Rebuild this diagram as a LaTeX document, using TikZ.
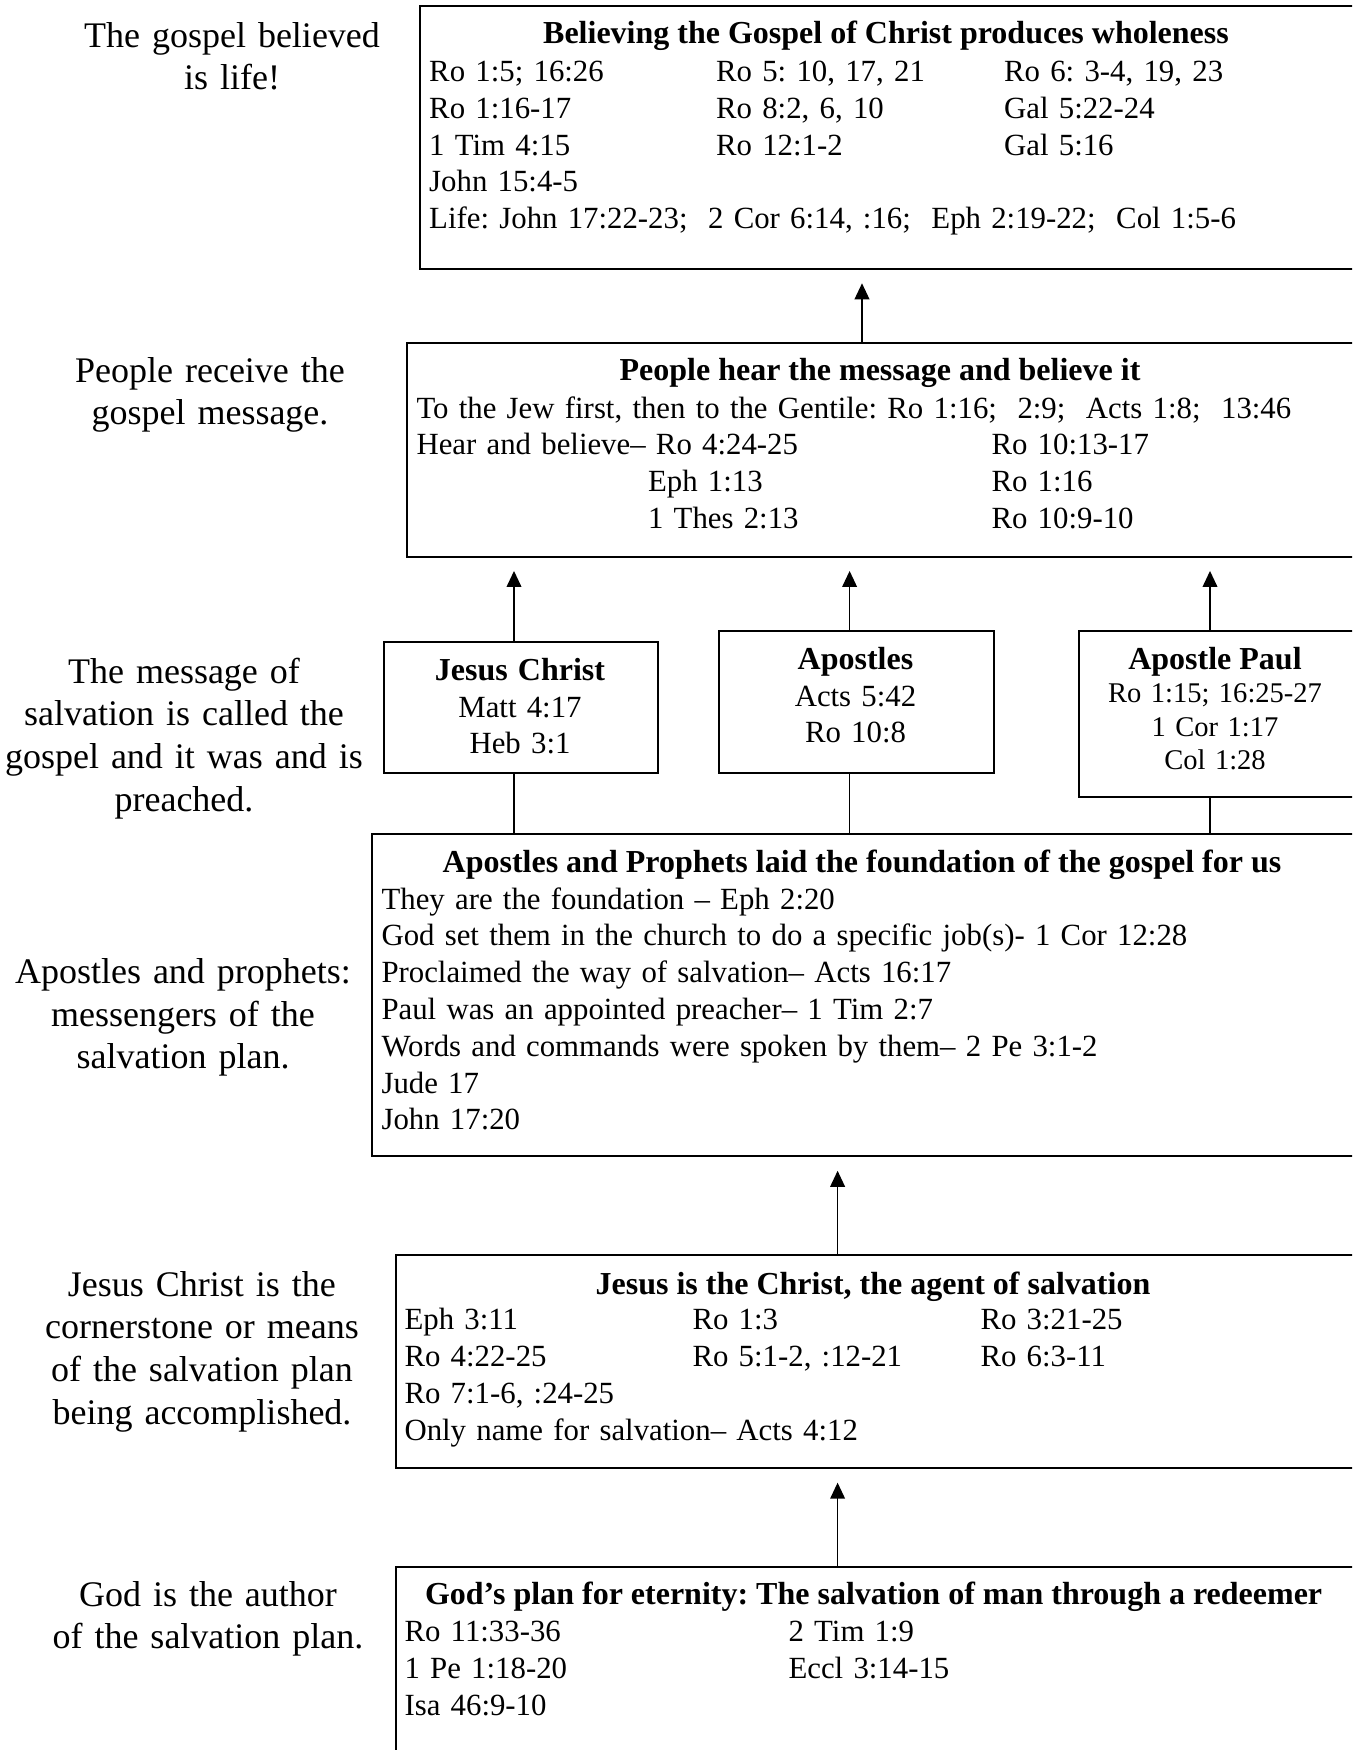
\documentclass[tikz,border=0pt]{standalone}
\usepackage{fontspec}
\setmainfont{Liberation Serif}
\usetikzlibrary{arrows.meta}

\tikzset{
  panel/.style={draw, line width=0.75pt, anchor=north west, inner sep=0pt},
  heading/.style={anchor=base, inner sep=0pt, font=\fontsize{12}{13.8}\selectfont\bfseries},
  refs/.style={anchor=base west, inner sep=0pt, align=left, text width=360pt, font=\fontsize{11.55}{13.8}\selectfont},
  who/.style={anchor=base, inner sep=0pt, align=center, text width=100pt, font=\fontsize{11.55}{13.8}\selectfont},
  sidenote/.style={anchor=base, inner sep=0pt, align=center, text width=150pt, font=\fontsize{13.5}{16}\selectfont},
  arr/.style={-{Triangle[length=6pt,width=5.5pt]}, line width=0.6pt, shorten >=5pt},
  link/.style={line width=0.6pt}
}
\newcommand{\whohead}[1]{{\fontsize{12}{13.8}\selectfont\bfseries #1}}

\begin{document}
\frenchspacing
\begin{tikzpicture}
  [x=0.375pt,y=-0.375pt]

  \path[use as bounding box] (0,0) rectangle (1352,1750);
  \clip (0,0) rectangle (1352,1750);

  % boxes
  \node[panel,minimum width=353.6pt,minimum height=98.6pt] (b1) at (419,5) {};
  \node[panel,minimum width=358.5pt,minimum height=80.1pt] (b2) at (406,342) {};
  \node[panel,minimum width=103.1pt,minimum height=49.1pt] (jc) at (382.5,641) {};
  \node[panel,minimum width=103.1pt,minimum height=53.25pt] (ap) at (718,630) {};
  \node[panel,minimum width=106.5pt,minimum height=62.25pt] (pl) at (1078,630) {};
  \node[panel,minimum width=371.6pt,minimum height=120.8pt] (b4) at (371,833.3) {};
  \node[panel,minimum width=362.6pt,minimum height=80pt] (b5) at (395,1254) {};
  \node[panel,minimum width=362.6pt,minimum height=93.75pt] (b6) at (395,1566) {};

  % texts in the boxes
  \node[heading] (t1) at (886,43.5) {Believing the Gospel of Christ produces wholeness};
  \node[refs] (r11) at (428.7,81.4) {Ro 1:5; 16:26\\Ro 1:16-17\\1 Tim 4:15\\John 15:4-5\\Life: John 17:22-23;\ \ 2 Cor 6:14, :16;\ \ Eph 2:19-22;\ \ Col 1:5-6};
  \node[refs] (r12) at (715.6,81.4) {Ro 5: 10, 17, 21\\Ro 8:2, 6, 10\\Ro 12:1-2};
  \node[refs] (r13) at (1003.6,81.4) {Ro 6: 3-4, 19, 23\\Gal 5:22-24\\Gal 5:16};

  \node[heading] (t2) at (880,380.5) {People hear the message and believe it};
  \node[refs] (r21) at (416,418) {To the Jew first, then to the Gentile: Ro 1:16;\ \ 2:9;\ \ Acts 1:8;\ \ 13:46\\Hear and believe– Ro 4:24-25};
  \node[refs] (r22) at (647.5,491.6) {Eph 1:13\\1 Thes 2:13};
  \node[refs] (r23) at (991,454.8) {Ro 10:13-17\\Ro 1:16\\Ro 10:9-10};

  \node[who] (w1) at (520,680.2) {\whohead{Jesus Christ}\\Matt 4:17\\Heb 3:1};
  \node[who] (w2) at (855.5,669.2) {\whohead{Apostles}\\Acts 5:42\\Ro 10:8};
  \node[heading] (w3) at (1215,669.2) {Apostle Paul};
  \node[who,font=\fontsize{10.7}{12.6}\selectfont] (w4) at (1215,702.5) {Ro 1:15; 16:25-27\\1 Cor 1:17\\Col 1:28};

  \node[heading] (t4) at (862,872.2) {Apostles and Prophets laid the foundation of the gospel for us};
  \node[refs] (r41) at (381,909) {They are the foundation – Eph 2:20\\God set them in the church to do a specific job(s)- 1 Cor 12:28\\Proclaimed the way of salvation– Acts 16:17\\Paul was an appointed preacher– 1 Tim 2:7\\Words and commands were spoken by them– 2 Pe 3:1-2\\Jude 17\\John 17:20};

  \node[heading] (t5) at (873,1294) {Jesus is the Christ, the agent of salvation};
  \node[refs] (r51) at (404,1329.6) {Eph 3:11\\Ro 4:22-25\\Ro 7:1-6, :24-25\\Only name for salvation– Acts 4:12};
  \node[refs] (r52) at (692,1329.6) {Ro 1:3\\Ro 5:1-2, :12-21};
  \node[refs] (r53) at (980,1329.6) {Ro 3:21-25\\Ro 6:3-11};

  \node[heading] (t6) at (873.6,1604.5) {God’s plan for eternity: The salvation of man through a redeemer};
  \node[refs] (r61) at (404,1641.6) {Ro 11:33-36\\1 Pe 1:18-20\\Isa 46:9-10};
  \node[refs] (r62) at (788,1641.6) {2 Tim 1:9\\Eccl 3:14-15};

  % notes on the left
  \node[sidenote] (n1) at (232,47) {The gospel believed\\is life!};
  \node[sidenote] (n2) at (210,382) {People receive the\\gospel message.};
  \node[sidenote] (n3) at (184,683) {The message of\\salvation is called the\\gospel and it was and is\\preached.};
  \node[sidenote] (n4) at (183,983.4) {Apostles and prophets:\\messengers of the\\salvation plan.};
  \node[sidenote] (n5) at (202,1296) {Jesus Christ is the\\cornerstone or means\\of the salvation plan\\being accomplished.};
  \node[sidenote] (n6) at (208,1606.3) {God is the author\\of the salvation plan.};

  % connectors
  \coordinate (k0) at (862,0);
  \coordinate (k1) at (514,0);
  \coordinate (k2) at (849.6,0);
  \coordinate (k3) at (1210,0);
  \coordinate (k4) at (837.6,0);
  \draw[arr] (k0 |- b2.north) -- (k0 |- b1.south);
  \foreach \k/\n in {k1/jc,k2/ap,k3/pl} {
    \draw[link] (\k |- b4.north) -- (\k |- \n.south);
    \draw[arr] (\k |- \n.north) -- (\k |- b2.south);
  }
  \draw[arr] (k4 |- b5.north) -- (k4 |- b4.south);
  \draw[arr] (k4 |- b6.north) -- (k4 |- b5.south);
\end{tikzpicture}
\end{document}
